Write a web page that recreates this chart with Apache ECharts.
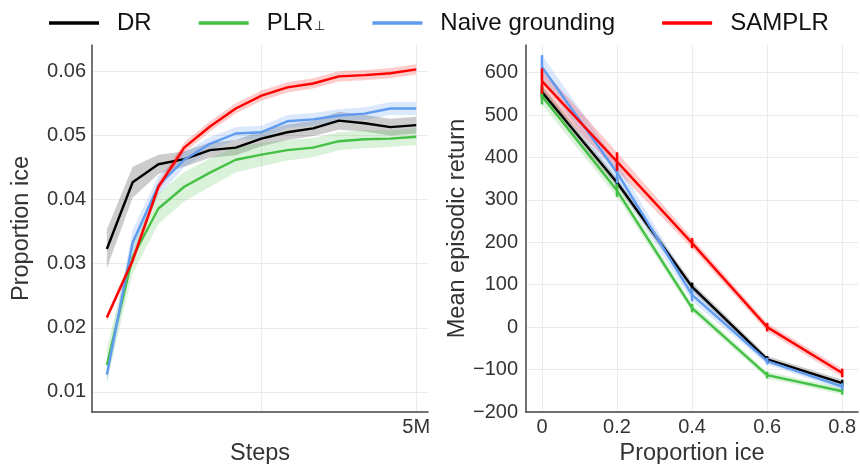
<!DOCTYPE html>
<html>
<head>
<meta charset="utf-8">
<script src="https://cdn.jsdelivr.net/npm/echarts@6/dist/echarts.min.js"></script>
<style>
  html, body { margin: 0; padding: 0; background: #fff; }
  #chart { width: 860px; height: 464px; }
</style>
</head>
<body>
<div id="chart"></div>
<script>
// left panel: proportion ice over training steps (millions)
const stepsM = [0, 5 / 12, 10 / 12, 15 / 12, 20 / 12, 25 / 12, 30 / 12, 35 / 12, 40 / 12, 45 / 12, 50 / 12, 55 / 12, 5]
const drIce = [0.0323, 0.0427, 0.0455, 0.0463, 0.0477, 0.0481, 0.0495, 0.0505, 0.0511, 0.0523, 0.0519, 0.0513, 0.0516]
const drIceErr = [0.003, 0.0024, 0.0015, 0.0012, 0.0012, 0.0012, 0.0012, 0.0012, 0.0012, 0.0014, 0.0013, 0.0013, 0.0013]
const plrIce = [0.0142, 0.031, 0.0386, 0.042, 0.0442, 0.0462, 0.047, 0.0477, 0.0481, 0.0491, 0.0494, 0.0495, 0.0498]
const plrIceErr = [0.0025, 0.0025, 0.0024, 0.0023, 0.0022, 0.002, 0.0018, 0.0016, 0.0015, 0.0014, 0.0014, 0.0013, 0.0013]
const naiveIce = [0.0127, 0.0333, 0.0422, 0.0462, 0.0487, 0.0503, 0.0505, 0.0522, 0.0525, 0.0531, 0.0534, 0.0542, 0.0542]
const naiveIceErr = [0.0015, 0.002, 0.0015, 0.0012, 0.001, 0.001, 0.001, 0.001, 0.001, 0.001, 0.001, 0.001, 0.001]
const samplrIce = [0.0216, 0.0305, 0.042, 0.0481, 0.0514, 0.0542, 0.0562, 0.0575, 0.0581, 0.0592, 0.0594, 0.0597, 0.0603]
const samplrIceErr = [0.0006, 0.0008, 0.0008, 0.0008, 0.0008, 0.0008, 0.0008, 0.0008, 0.0008, 0.0008, 0.0008, 0.0008, 0.0008]
const iceTicks = [0.01, 0.02, 0.03, 0.04, 0.05, 0.06]
const stepGrid = [2.5, 5]
const stepLabels = [5]

// right panel: mean episodic return vs proportion ice
const propIce = [0, 0.2, 0.4, 0.6, 0.8]
const drReturn = [554, 341, 95, -76, -132]
const drReturnErr = [15, 10, 10, 8, 8]
const plrReturn = [545, 322, 45, -113, -151]
const plrReturnErr = [20, 15, 10, 8, 8]
const naiveReturn = [613, 364, 76, -80, -140]
const naiveReturnErr = [28, 25, 15, 8, 8]
const samplrReturn = [580, 390, 198, 0, -108]
const samplrReturnErr = [30, 22, 12, 10, 10]
const returnTicks = [-200, -100, 0, 100, 200, 300, 400, 500, 600]

const names = ['DR', 'PLR⊥', 'Naive grounding', 'SAMPLR']
const colors = ['#000000', '#44c044', '#5f9bf0', '#ff0000']
const bands = ['rgba(0,0,0,0.2)', 'rgba(68,192,68,0.2)', 'rgba(95,155,240,0.22)', 'rgba(255,0,0,0.2)']

const font = 'Liberation Sans, Arial, sans-serif'

// shaded band drawn as one polygon through the axis scale
function bandSeries(xs, ys, errs, idx, axisIdx) {
  return {
    name: 'band' + axisIdx + idx,
    type: 'custom',
    xAxisIndex: axisIdx,
    yAxisIndex: axisIdx,
    silent: true,
    z: 1,
    data: xs.map((x, i) => [x, ys[i]]),
    renderItem: function(params, api) {
      if (params.dataIndex !== 0) return null
      const upper = xs.map((x, i) => api.coord([x, ys[i] + errs[i]]))
      const lower = xs.map((x, i) => api.coord([x, ys[i] - errs[i]])).reverse()
      return {
        type: 'polygon',
        shape: { points: upper.concat(lower) },
        style: { fill: bands[idx] }
      }
    }
  }
}

function errorBars(xs, ys, errs, idx) {
  return {
    name: 'err' + idx,
    type: 'custom',
    xAxisIndex: 1,
    yAxisIndex: 1,
    silent: true,
    z: 4,
    data: xs.map((x, i) => [x, ys[i] - errs[i], ys[i] + errs[i]]),
    renderItem: function(params, api) {
      const p1 = api.coord([api.value(0), api.value(1)])
      const p2 = api.coord([api.value(0), api.value(2)])
      return {
        type: 'line',
        shape: { x1: p1[0], y1: p1[1], x2: p2[0], y2: p2[1] },
        style: { stroke: colors[idx], lineWidth: 2.5 }
      }
    }
  }
}

const leftSets = [[drIce, drIceErr], [plrIce, plrIceErr], [naiveIce, naiveIceErr], [samplrIce, samplrIceErr]]
const rightSets = [[drReturn, drReturnErr], [plrReturn, plrReturnErr], [naiveReturn, naiveReturnErr], [samplrReturn, samplrReturnErr]]

const series = []
leftSets.forEach((s, i) => {
  series.push(bandSeries(stepsM, s[0], s[1], i, 0))
})
rightSets.forEach((s, i) => {
  series.push(bandSeries(propIce, s[0], s[1], i, 1))
})
leftSets.forEach((s, i) => {
  series.push({
    name: names[i],
    type: 'line',
    xAxisIndex: 0,
    yAxisIndex: 0,
    symbol: 'none',
    color: colors[i],
    lineStyle: { width: 2.4, color: colors[i] },
    data: stepsM.map((x, j) => [x, s[0][j]]),
    z: 3
  })
})
rightSets.forEach((s, i) => {
  series.push({
    name: names[i],
    type: 'line',
    xAxisIndex: 1,
    yAxisIndex: 1,
    symbol: 'none',
    color: colors[i],
    lineStyle: { width: 2.4, color: colors[i] },
    data: propIce.map((x, j) => [x, s[0][j]]),
    z: 3
  })
  series.push(errorBars(propIce, s[0], s[1], i))
})

const axisLine = { show: true, onZero: false, lineStyle: { color: '#444', width: 1.5 } }
const gridLine = { show: true, lineStyle: { color: '#ebebeb', width: 1 } }
const tickLabel = { color: '#333', fontSize: 20, fontFamily: font }
const nameText = { color: '#333', fontSize: 23.5, fontFamily: font }

const option = {
  animation: false,
  backgroundColor: '#fff',
  legend: {
    data: names,
    top: 6,
    left: 44,
    itemWidth: 50,
    itemHeight: 14,
    itemGap: 47,
    icon: 'path://M0,5.5 L50,5.5 L50,9 L0,9 Z',
    formatter: name => name.indexOf('⊥') >= 0 ? '{m|' + name.replace('⊥', '') + '}{s|⊥}' : '{m|' + name + '}',
    textStyle: {
      color: '#111',
      fontSize: 24,
      fontFamily: font,
      padding: [0, 0, 0, 13],
      rich: {
        m: { color: '#111', fontSize: 24, fontFamily: font },
        s: { color: '#111', fontSize: 13, fontFamily: font, verticalAlign: 'bottom', padding: [0, 0, 2, 1] }
      }
    }
  },
  grid: [
    { left: 92, top: 45, width: 336, height: 367, outerBoundsMode: 'none' },
    { left: 526, top: 45, width: 332, height: 367, outerBoundsMode: 'none' }
  ],
  xAxis: [
    {
      type: 'value',
      gridIndex: 0,
      min: -0.24,
      max: 5.19,
      name: 'Steps',
      nameLocation: 'middle',
      nameGap: 29,
      nameTextStyle: nameText,
      axisLine: axisLine,
      axisTick: { show: false, customValues: stepGrid },
      axisLabel: Object.assign({ customValues: stepLabels, margin: 5, formatter: v => v + 'M' }, tickLabel),
      splitLine: gridLine
    },
    {
      type: 'value',
      gridIndex: 1,
      min: -0.0425,
      max: 0.842,
      name: 'Proportion ice',
      nameLocation: 'middle',
      nameGap: 29,
      nameTextStyle: nameText,
      axisLine: axisLine,
      axisTick: { show: false, customValues: propIce },
      axisLabel: Object.assign({ customValues: propIce, margin: 5, formatter: v => String(v) }, tickLabel),
      splitLine: gridLine
    }
  ],
  yAxis: [
    {
      type: 'value',
      gridIndex: 0,
      min: 0.006875,
      max: 0.0641,
      name: 'Proportion ice',
      nameLocation: 'middle',
      nameGap: 58,
      nameTextStyle: nameText,
      axisLine: axisLine,
      axisTick: { show: false, customValues: iceTicks },
      axisLabel: Object.assign({ customValues: iceTicks, margin: 6, formatter: v => v.toFixed(2) }, tickLabel),
      splitLine: gridLine
    },
    {
      type: 'value',
      gridIndex: 1,
      min: -200,
      max: 665,
      name: 'Mean episodic return',
      nameLocation: 'middle',
      nameGap: 56,
      nameTextStyle: nameText,
      axisLine: axisLine,
      axisTick: { show: false, customValues: returnTicks },
      axisLabel: Object.assign({ customValues: returnTicks, margin: 8, formatter: v => String(v).replace('-', '\u2212') }, tickLabel),
      splitLine: gridLine
    }
  ],
  series: series
}

const myChart = echarts.init(document.getElementById('chart'))
myChart.setOption(option)
</script>
</body>
</html>
